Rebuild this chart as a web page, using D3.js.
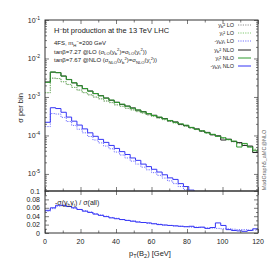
<!DOCTYPE html>
<html>
<head>
<meta charset="utf-8">
<script src="https://cdn.jsdelivr.net/npm/d3@7"></script>
<style>
  body { margin: 0; background: #fff; }
  text { font-family: "Liberation Sans", Arial, sans-serif; fill: #222; }
</style>
</head>
<body>
<svg id="chart" width="271" height="264"></svg>
<script>
// bin edges in GeV (40 bins of 3 GeV)
const binEdges = [0,3,6,9,12,15,18,21,24,27,30,33,36,39,42,45,48,51,54,57,60,
  63,66,69,72,75,78,81,84,87,90,93,96,99,102,105,108,111,114,117,120];

// sigma per bin, NLO
const yb2NLO = [2.45e-3,4.40e-3,4.30e-3,3.50e-3,2.85e-3,2.32e-3,1.97e-3,1.64e-3,1.43e-3,1.22e-3,
  1.08e-3,9.4e-4,8.2e-4,7.3e-4,6.4e-4,5.8e-4,5.2e-4,4.55e-4,4.15e-4,3.65e-4,
  3.35e-4,2.95e-4,2.75e-4,2.4e-4,2.25e-4,1.95e-4,1.8e-4,1.6e-4,1.48e-4,1.3e-4,
  1.2e-4,1.04e-4,9.8e-5,7.6e-5,8.0e-5,7.0e-5,6.5e-5,5.5e-5,5.3e-5,3.6e-5];
const yt2NLO = [2.40e-3,4.47e-3,4.27e-3,3.47e-3,2.82e-3,2.34e-3,1.95e-3,1.66e-3,1.41e-3,1.23e-3,
  1.07e-3,9.3e-4,8.3e-4,7.2e-4,6.5e-4,5.75e-4,5.1e-4,4.6e-4,4.1e-4,3.7e-4,
  3.3e-4,3.0e-4,2.7e-4,2.45e-4,2.2e-4,2.0e-4,1.85e-4,1.62e-4,1.45e-4,1.32e-4,
  1.17e-4,1.07e-4,9.5e-5,8.7e-5,7.8e-5,7.1e-5,5.0e-5,6.2e-5,5.0e-5,4.0e-5];
const ybytNLO = [2.2e-4,5.25e-4,5.0e-4,4.0e-4,3.0e-4,2.35e-4,1.86e-4,1.48e-4,1.17e-4,9.5e-5,
  7.9e-5,6.6e-5,5.5e-5,4.6e-5,3.8e-5,3.2e-5,2.6e-5,2.25e-5,1.8e-5,1.55e-5,
  1.32e-5,1.12e-5,9.5e-6,7.9e-6,7.2e-6,5.6e-6,4.7e-6,3.8e-6,3.2e-6,2.7e-6,
  2.2e-6,1.9e-6,1.6e-6,1.3e-6,1.1e-6,9.0e-7,8.0e-7,6.5e-7,5.5e-7,4.5e-7];

// sigma per bin, LO
const yb2LO = [1.28e-3,3.05e-3,3.02e-3,2.48e-3,2.12e-3,1.76e-3,1.52e-3,1.29e-3,1.14e-3,9.9e-4,
  9.0e-4,7.8e-4,7.2e-4,6.2e-4,5.75e-4,5.05e-4,4.65e-4,4.15e-4,3.85e-4,3.4e-4,
  3.15e-4,2.8e-4,2.6e-4,2.3e-4,2.15e-4,1.9e-4,1.75e-4,1.55e-4,1.45e-4,1.28e-4,
  1.17e-4,1.03e-4,9.6e-5,8.4e-5,7.9e-5,6.8e-5,6.4e-5,5.5e-5,5.1e-5,4.3e-5];
const yt2LO = [1.3e-3,3.1e-3,3.0e-3,2.5e-3,2.1e-3,1.78e-3,1.5e-3,1.3e-3,1.13e-3,1.0e-3,
  8.9e-4,7.9e-4,7.1e-4,6.3e-4,5.7e-4,5.1e-4,4.6e-4,4.2e-4,3.8e-4,3.45e-4,
  3.1e-4,2.85e-4,2.55e-4,2.35e-4,2.1e-4,1.92e-4,1.72e-4,1.58e-4,1.42e-4,1.3e-4,
  1.15e-4,1.05e-4,9.4e-5,8.6e-5,7.7e-5,7.0e-5,6.3e-5,5.6e-5,5.0e-5,4.4e-5];
const ybytLO = [1.7e-4,3.7e-4,3.6e-4,2.95e-4,2.3e-4,1.82e-4,1.45e-4,1.17e-4,9.4e-5,7.6e-5,
  6.4e-5,5.3e-5,4.5e-5,3.7e-5,3.1e-5,2.6e-5,2.15e-5,1.8e-5,1.5e-5,1.28e-5,
  1.08e-5,9.2e-6,7.8e-6,6.6e-6,5.6e-6,4.7e-6,3.9e-6,3.2e-6,2.7e-6,2.2e-6,
  1.9e-6,1.6e-6,1.3e-6,1.1e-6,9.0e-7,7.5e-7,6.5e-7,5.5e-7,4.5e-7,3.8e-7];

// ratio panel: -sigma(yb yt) / sigma(all)
const ratioNLO = [0.054,0.060,0.066,0.066,0.063,0.060,0.056,0.052,0.049,0.045,
  0.042,0.039,0.036,0.034,0.032,0.030,0.028,0.026,0.025,0.024,
  0.022,0.020,0.019,0.018,0.017,0.016,0.015,0.016,0.013,0.014,
  0.011,0.013,0.024,0.018,0.008,0.006,0.005,0.004,0.006,0.010];
const ratioLO = [0.052,0.058,0.064,0.065,0.063,0.059,0.056,0.053,0.050,0.046,
  0.043,0.040,0.037,0.035,0.032,0.030,0.029,0.027,0.025,0.023,
  0.022,0.021,0.019,0.018,0.017,0.016,0.015,0.014,0.014,0.013,
  0.012,0.012,0.011,0.010,0.010,0.009,0.008,0.008,0.007,0.007];

const legendLabels = [["y","b","² LO"],["y","t","² LO"],["-y","b","y","t"," LO"],
  ["y","b","² NLO"],["y","t","² NLO"],["-y","b","y","t"," NLO"]];

const svg = d3.select('#chart');
const L = 45, R = 258, T = 20, M = 191, B = 233;

const x = d3.scaleLinear().domain([0, 120]).range([L, R]);
const y = d3.scaleLog().domain([3.6e-6, 0.1]).range([M, T]);
const yr = d3.scaleLinear().domain([0, 0.1]).range([B, M]);

svg.append('defs').append('clipPath').attr('id', 'clipMain')
  .append('rect').attr('x', L).attr('y', T).attr('width', R - L).attr('height', M - T);
svg.append('defs').append('clipPath').attr('id', 'clipRatio')
  .append('rect').attr('x', L).attr('y', M).attr('width', R - L).attr('height', B - M);

// step path through bin edges
function stepPts(vals) {
  const pts = [];
  vals.forEach((v, i) => { pts.push([binEdges[i], v]); pts.push([binEdges[i + 1], v]); });
  return pts;
}
const lineMain = d3.line().x(d => x(d[0])).y(d => y(d[1]));
const lineRatio = d3.line().x(d => x(d[0])).y(d => yr(d[1]));

const series = [
  { vals: yb2LO, color: '#8a8a8a', dash: '1.2,1.2' },
  { vals: yt2LO, color: '#7fc870', dash: '1.2,1.2' },
  { vals: ybytLO, color: '#7070ff', dash: '1.2,1.2' },
  { vals: yb2NLO, color: '#222222', dash: null },
  { vals: yt2NLO, color: '#2f9a2f', dash: null },
  { vals: ybytNLO, color: '#3535f5', dash: null }
];

const gMain = svg.append('g').attr('clip-path', 'url(#clipMain)');
series.forEach(s => {
  gMain.append('path').attr('d', lineMain(stepPts(s.vals)))
    .attr('fill', 'none').attr('stroke', s.color).attr('stroke-width', 1)
    .attr('stroke-dasharray', s.dash);
});

const gRatio = svg.append('g').attr('clip-path', 'url(#clipRatio)');
gRatio.append('path').attr('d', lineRatio(stepPts(ratioLO)))
  .attr('fill', 'none').attr('stroke', '#7070ff').attr('stroke-width', 1).attr('stroke-dasharray', '1.2,1.2');
gRatio.append('path').attr('d', lineRatio(stepPts(ratioNLO)))
  .attr('fill', 'none').attr('stroke', '#3535f5').attr('stroke-width', 1);

// axes helpers
function ax(gen, tx, ty, vals, size) {
  const g = svg.append('g').attr('transform', `translate(${tx},${ty})`)
    .call(gen.tickValues(vals).tickSize(size).tickFormat(''));
  g.select('.domain').remove();
  g.selectAll('line').attr('stroke', '#444').attr('stroke-width', 0.7);
  return g;
}
const decades = [1e-5, 1e-4, 1e-3, 1e-2, 1e-1];
const minorLog = [];
[1e-6, 1e-5, 1e-4, 1e-3, 1e-2].forEach(d => { for (let k = 2; k <= 9; k++) { const v = d * k; if (v >= 3.6e-6 && v < 0.1) minorLog.push(v); } });

ax(d3.axisLeft(y), L, 0, decades, -4);
ax(d3.axisLeft(y), L, 0, minorLog, -2);
ax(d3.axisRight(y), R, 0, decades, -4);
ax(d3.axisRight(y), R, 0, minorLog, -2);

const xMajor = [0, 20, 40, 60, 80, 100, 120];
const xMinor = [10, 30, 50, 70, 90, 110];
ax(d3.axisBottom(x), 0, M, xMajor, -4);
ax(d3.axisBottom(x), 0, M, xMinor, -2.5);
ax(d3.axisTop(x), 0, T, xMajor, -4);
ax(d3.axisTop(x), 0, T, xMinor, -2.5);
ax(d3.axisBottom(x), 0, B, xMajor, -4);
ax(d3.axisBottom(x), 0, B, xMinor, -2.5);
ax(d3.axisTop(x), 0, M, xMajor, -4);

const rMajor = [0, 0.02, 0.04, 0.06, 0.08, 0.1];
const rMinor = [0.01, 0.03, 0.05, 0.07, 0.09];
ax(d3.axisLeft(yr), L, 0, rMajor, -4);
ax(d3.axisLeft(yr), L, 0, rMinor, -2);
ax(d3.axisRight(yr), R, 0, rMajor, -4);
ax(d3.axisRight(yr), R, 0, rMinor, -2);

// frames
svg.append('rect').attr('x', L).attr('y', T).attr('width', R - L).attr('height', M - T)
  .attr('fill', 'none').attr('stroke', '#333').attr('stroke-width', 1);
svg.append('rect').attr('x', L).attr('y', M).attr('width', R - L).attr('height', B - M)
  .attr('fill', 'none').attr('stroke', '#333').attr('stroke-width', 1);

// tick labels
decades.forEach(d => {
  const t = svg.append('text').attr('x', 40).attr('y', y(d) + 2.5)
    .attr('text-anchor', 'end').attr('font-size', 7);
  t.append('tspan').text('10');
  t.append('tspan').attr('dy', -3).attr('font-size', 5).text(Math.round(Math.log10(d)));
});
rMajor.forEach(v => {
  svg.append('text').attr('x', 40).attr('y', yr(v) + 2.5).attr('text-anchor', 'end')
    .attr('font-size', 7).text(v === 0 ? '0' : d3.format('.2~f')(v));
});
xMajor.forEach(v => {
  svg.append('text').attr('x', x(v)).attr('y', 244).attr('text-anchor', 'middle')
    .attr('font-size', 7).text(v);
});

// axis titles
const yt = svg.append('text').attr('transform', 'translate(23,108) rotate(-90)')
  .attr('text-anchor', 'middle').attr('font-size', 7.5).text('σ per bin');
const xt = svg.append('text').attr('x', 150).attr('y', 256).attr('text-anchor', 'middle').attr('font-size', 7.5);
xt.append('tspan').text('p');
xt.append('tspan').attr('dy', 1.5).attr('font-size', 5.5).text('T');
xt.append('tspan').attr('dy', -1.5).text('(B');
xt.append('tspan').attr('dy', 1.5).attr('font-size', 5.5).text('2');
xt.append('tspan').attr('dy', -1.5).text(') [GeV]');

// info text
function rich(xp, yp, size, parts) {
  const t = svg.append('text').attr('x', xp).attr('y', yp).attr('font-size', size);
  let shift = 0;
  parts.forEach(p => {
    const want = p[1] === 'sub' ? 1.5 : p[1] === 'sup' ? -2.5 : 0;
    t.append('tspan').attr('dy', want - shift)
      .attr('font-size', p[1] ? size * 0.7 : size).text(p[0]);
    shift = want;
  });
  return t;
}
rich(54, 33, 7.5, [['H'], ['−', 'sup'], ['bt production at the 13 TeV LHC']]);
rich(54, 45, 6, [['4FS, m'], ['H', 'sub'], ['−', 'sup'], ['=200 GeV']]);
rich(54, 53.5, 6, [['tanβ=7.27 @LO (σ'], ['LO', 'sub'], ['(y'], ['b', 'sub'], ['2', 'sup'], [')=σ'], ['LO', 'sub'], ['(y'], ['t', 'sub'], ['2', 'sup'], ['))']]);
rich(54, 62, 6, [['tanβ=7.67 @NLO (σ'], ['NLO', 'sub'], ['(y'], ['b', 'sub'], ['2', 'sup'], [')=σ'], ['NLO', 'sub'], ['(y'], ['t', 'sub'], ['2', 'sup'], ['))']]);

rich(55, 205, 7, [['-σ(y'], ['b', 'sub'], ['y'], ['t', 'sub'], [') / σ(all)']]);

// legend
const legY = [27, 35, 43, 52, 60, 68];
series.forEach((s, i) => {
  const lab = legendLabels[i];
  const t = svg.append('text').attr('x', 234).attr('y', legY[i]).attr('text-anchor', 'end').attr('font-size', 5.5);
  let shift = 0;
  lab.forEach((p, j) => {
    const sub = j % 2 === 1;
    const want = sub ? 1.2 : 0;
    t.append('tspan').attr('dy', want - shift).attr('font-size', sub ? 4 : 5.5).text(p);
    shift = want;
  });
  svg.append('line').attr('x1', 238).attr('x2', 251).attr('y1', legY[i] - 2).attr('y2', legY[i] - 2)
    .attr('stroke', s.color).attr('stroke-width', 1).attr('stroke-dasharray', s.dash);
});

// generator tag
svg.append('text').attr('transform', 'translate(266,160) rotate(-90)')
  .attr('text-anchor', 'middle').attr('font-size', 5.5).style('fill', '#666')
  .text('MadGraph5_aMC@NLO');
</script>
</body>
</html>
